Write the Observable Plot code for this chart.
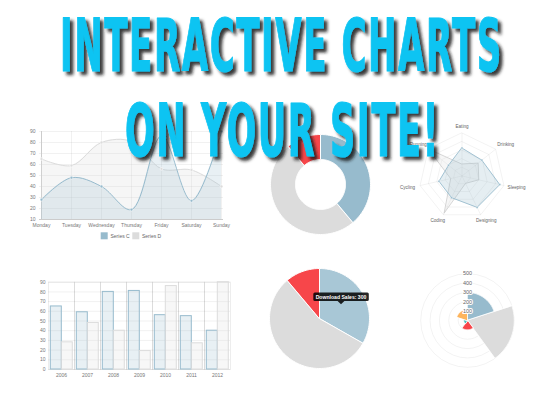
<!DOCTYPE html>
<html><head><meta charset="utf-8">
<script src="https://cdn.jsdelivr.net/npm/d3@7"></script>
<script src="https://cdn.jsdelivr.net/npm/@observablehq/plot@0.6"></script>
<style>
body{margin:0;background:#fff;}
#root{position:relative;width:550px;height:400px;overflow:hidden;background:#fff;font-family:"Liberation Sans",Arial,sans-serif;}
#root > svg{position:absolute;display:block;overflow:visible;}
</style></head><body><div id="root"></div>
<script>
// ---------- data ----------
const titleLines = ["INTERACTIVE CHARTS", "ON YOUR SITE!"];

const days = ["Monday","Tuesday","Wednesday","Thursday","Friday","Saturday","Sunday"];
const lineSeries = ["Series C","Series D"];           // blue, gray
const lineBlue = [28,48,40,19,86,27,90];
const lineGray = [65,59,80,81,56,55,40];
const lineTicks = [10,20,30,40,50,60,70,80,90];

const years = ["2006","2007","2008","2009","2010","2011","2012"];
const barSeries = ["A","B"];
const barBlue = [65,59,80,81,56,55,40];
const barGray = [28,48,40,19,86,27,90];
const barTicks = [0,10,20,30,40,50,60,70,80,90];

const donutLabels = ["Download Sales","In-Store Sales","Mail-Order Sales"];
const donutValues = [350,450,100];

const pieLabels = ["Download Sales","In-Store Sales","Mail-Order Sales"];
const pieValues = [300,500,100];

const radarLabels = ["Eating","Drinking","Sleeping","Designing","Coding","Cycling","Running"];
const radarBlue = [65,59,90,81,56,55,40];
const radarGray = [28,48,40,19,96,27,100];
const radarLevels = [20,40,60,80,100];

const polarLabels = ["Segment 1","Segment 2","Segment 3","Segment 4","Segment 5"];
const polarValues = [300,500,100,40,120];
const polarTicks = [100,200,300,400,500];

// ---------- colours ----------
const BLUE = "rgb(151,187,205)", GRAY = "rgb(220,220,220)", RED = "#F7464A", TEAL = "#46BFBD", ORANGE = "#FDB45C";
const FONT = "Liberation Sans, Arial, sans-serif";
const root = document.getElementById("root");
function place(svg, left, top){ svg.style.left = left+"px"; svg.style.top = top+"px"; root.appendChild(svg); return svg; }
const baseStyle = {fontSize:"5px", fontFamily: FONT, color:"#777", background:"none", overflow:"visible"};
const byColor = {value:"key", scale:"color"};

// polar helper: wedge polygon (angles clockwise from 12 o'clock)
function wedge(key, a0, a1, r0, r1){
  const n = Math.max(2, Math.ceil((a1-a0)/(Math.PI/90)));
  const pts = [];
  for (let k=0;k<=n;k++){ const a=a0+(a1-a0)*k/n; pts.push({key, x:r1*Math.sin(a), y:r1*Math.cos(a)}); }
  if (r0>0) for (let k=n;k>=0;k--){ const a=a0+(a1-a0)*k/n; pts.push({key, x:r0*Math.sin(a), y:r0*Math.cos(a)}); }
  else pts.push({key, x:0, y:0});
  return pts;
}

// ---------- 1. line chart ----------
const blueRows = days.map((d,i)=>({day:d, series:lineSeries[0], value:lineBlue[i]}));
const grayRows = days.map((d,i)=>({day:d, series:lineSeries[1], value:lineGray[i]}));
const lc = {x:"day", y:"value", curve:"catmull-rom"};
place(Plot.plot({
  width:240, height:130, marginLeft:39, marginRight:17, marginTop:11, marginBottom:31,
  style: baseStyle,
  x:{type:"point", domain:days, padding:0, label:null, tickSize:0, tickPadding:4, grid:true},
  y:{domain:[10,90], ticks:lineTicks, label:null, tickSize:0, tickPadding:4, grid:true},
  marks:[
    Plot.ruleX([days[0]], {x:d=>d, stroke:"#ccc"}),
    Plot.ruleY([lineTicks[0]], {stroke:"#ccc"}),
    Plot.areaY(grayRows, {...lc, fill:GRAY, fillOpacity:0.25, clip:true}),
    Plot.lineY(grayRows, {...lc, stroke:GRAY, strokeWidth:1}),
    Plot.areaY(blueRows, {...lc, fill:BLUE, fillOpacity:0.22, clip:true}),
    Plot.lineY(blueRows, {...lc, stroke:BLUE, strokeWidth:1}),
    Plot.dot(grayRows, {x:"day", y:"value", r:1.4, fill:GRAY, stroke:"white", strokeWidth:0.5}),
    Plot.dot(blueRows, {x:"day", y:"value", r:1.4, fill:BLUE, stroke:"white", strokeWidth:0.5})
  ]
}), 0, 120);

// ---------- 2. bar chart ----------
const barRows = years.flatMap((y,i)=>[{year:y, series:barSeries[0], value:barBlue[i]},{year:y, series:barSeries[1], value:barGray[i]}]);
place(Plot.plot({
  width:240, height:130, marginLeft:45.7, marginRight:7.3, marginTop:11.7, marginBottom:31,
  style: baseStyle,
  fx:{domain:years, padding:0, axis:"bottom", label:null, tickSize:0, tickPadding:4},
  x:{domain:barSeries, axis:null, paddingInner:0, paddingOuter:0.18},
  y:{domain:[0,90], ticks:barTicks, grid:true, label:null, tickSize:0, tickPadding:3},
  color:{domain:barSeries, range:[BLUE, GRAY]},
  marks:[
    Plot.frame({stroke:"#000", strokeOpacity:0.07}),
    Plot.barY(barRows, {fx:"year", x:"series", y:"value", fill:"series", fillOpacity:0.22, stroke:"series", strokeWidth:1})
  ]
}), 0, 270);

// ---------- 3. doughnut ----------
const donutRows = d3.pie().sort(null)(donutValues).flatMap(p => wedge(donutLabels[p.index], p.startAngle, p.endAngle, 0.5, 1));
place(Plot.plot({
  width:110, height:110, margin:0, style: baseStyle,
  x:{domain:[-1.1,1.1], axis:null}, y:{domain:[-1.1,1.1], axis:null},
  color:{domain:donutLabels, range:[BLUE, GRAY, RED]},
  marks:[ Plot.line(donutRows, {x:"x", y:"y", z:"key", fill:byColor, stroke:"white", strokeWidth:1, curve:"linear-closed"}) ]
}), 265, 129);

// ---------- 4. pie ----------
const pieRows = d3.pie().sort(null)(pieValues).flatMap(p => wedge(pieLabels[p.index], p.startAngle, p.endAngle, 0, 1));
place(Plot.plot({
  width:110, height:110, margin:0, style: baseStyle,
  x:{domain:[-1.1,1.1], axis:null}, y:{domain:[-1.1,1.1], axis:null},
  color:{domain:pieLabels, range:["rgb(168,199,214)", GRAY, RED]},
  marks:[ Plot.line(pieRows, {x:"x", y:"y", z:"key", fill:byColor, stroke:"white", strokeWidth:1, curve:"linear-closed"}) ]
}), 264, 263);

// ---------- 5. radar ----------
const NR = radarLabels.length;
const ang = i => i*2*Math.PI/NR;
const RMAX = radarLevels[radarLevels.length-1];
const gridRows = radarLevels.flatMap(l => radarLabels.map((_,i)=>({level:l, x:l*Math.sin(ang(i)), y:l*Math.cos(ang(i))})));
const spokeRows = radarLabels.map((lab,i)=>({lab, x:RMAX*Math.sin(ang(i)), y:RMAX*Math.cos(ang(i))}));
const radarGrayRows = radarGray.map((v,i)=>({x:v*Math.sin(ang(i)), y:v*Math.cos(ang(i))}));
const radarBlueRows = radarBlue.map((v,i)=>({x:v*Math.sin(ang(i)), y:v*Math.cos(ang(i))}));
const labelRows = radarLabels.map((lab,i)=>({lab, x:1.3*RMAX*Math.sin(ang(i)), y:1.16*RMAX*Math.cos(ang(i))}));
place(Plot.plot({
  width:123, height:123, margin:0, style: baseStyle,
  x:{domain:[-143,143], axis:null}, y:{domain:[-143,143], axis:null},
  marks:[
    Plot.line(gridRows, {x:"x", y:"y", z:"level", stroke:"#000", strokeOpacity:0.09, strokeWidth:0.6, curve:"linear-closed"}),
    Plot.link(spokeRows, {x1:()=>0, y1:()=>0, x2:"x", y2:"y", stroke:"#000", strokeOpacity:0.09, strokeWidth:0.6}),
    Plot.line(radarGrayRows, {x:"x", y:"y", fill:GRAY, fillOpacity:0.25, stroke:"rgb(205,205,205)", strokeWidth:0.8, curve:"linear-closed"}),
    Plot.line(radarBlueRows, {x:"x", y:"y", fill:BLUE, fillOpacity:0.25, stroke:BLUE, strokeWidth:0.9, curve:"linear-closed"}),
    Plot.dot(radarBlueRows, {x:"x", y:"y", r:1.1, fill:BLUE, stroke:"white", strokeWidth:0.4}),
    Plot.text(labelRows, {x:"x", y:"y", text:"lab", fill:"#666", fontSize:4.6})
  ]
}), 400, 114);

// ---------- 6. polar area ----------
const NP = polarValues.length;
const polarRows = polarValues.flatMap((v,i)=>wedge(polarLabels[i], i*2*Math.PI/NP, (i+1)*2*Math.PI/NP, 0, v));
place(Plot.plot({
  width:102, height:102, margin:0, style: baseStyle,
  x:{domain:[-545,545], axis:null}, y:{domain:[-545,545], axis:null},
  r:{type:"linear", domain:[0,545], range:[0,51]},
  color:{domain:polarLabels, range:[BLUE, GRAY, RED, TEAL, ORANGE]},
  marks:[
    Plot.dot(polarTicks, {x:()=>0, y:()=>0, r:d=>d, fill:"none", stroke:"#000", strokeOpacity:0.1, strokeWidth:0.5}),
    Plot.line(polarRows, {x:"x", y:"y", z:"key", fill:byColor, stroke:"white", strokeWidth:0.8, curve:"linear-closed"}),
    Plot.text(polarTicks, {x:()=>0, y:d=>d, text:d=>String(d), fill:"#666", stroke:"white", strokeWidth:2, fontSize:5.5})
  ]
}), 416, 269);

// ---------- overlay: legend, tooltip, title ----------
const ov = d3.select(root).append("svg").attr("width",550).attr("height",400)
  .style("left","0px").style("top","0px").style("pointer-events","none");
const defs = ov.append("defs");
defs.append("filter").attr("id","sh").attr("x","-10%").attr("y","-20%").attr("width","130%").attr("height","160%")
  .append("feDropShadow").attr("dx",3.5).attr("dy",3.5).attr("stdDeviation",1.5)
  .attr("flood-color","#151515").attr("flood-opacity",0.85);

// legend
const lg = ov.append("g").attr("font-family",FONT).attr("font-size",5).attr("fill","#666");
[[BLUE,100.7,110.5],[GRAY,132.3,142]].forEach(([c,bx,tx],i)=>{
  lg.append("rect").attr("x",bx).attr("y",232.3).attr("width",7).attr("height",7).attr("fill",c);
  lg.append("text").attr("x",tx).attr("y",235.8).attr("dy","0.35em").text(lineSeries[i]);
});

// tooltip on pie
const tt = ov.append("g");
tt.append("rect").attr("x",313.3).attr("y",292.5).attr("width",55.5).attr("height",8.6).attr("rx",1.5).attr("fill","rgba(0,0,0,0.85)");
tt.append("path").attr("d","M337.6,301.1L341,304.2L344.4,301.1Z").attr("fill","rgba(0,0,0,0.85)");
tt.append("text").attr("x",341).attr("y",296.8).attr("dy","0.35em").attr("text-anchor","middle")
  .attr("font-family",FONT).attr("font-size",5.1).attr("font-weight","bold").attr("fill","#fff")
  .text(pieLabels[0]+": "+pieValues[0]);

// title: measured and squeezed horizontally to the reference extents
const tg = ov.append("g").attr("filter","url(#sh)")
  .attr("font-family","Liberation Sans Narrow, DejaVu Sans Condensed, DejaVu Sans, sans-serif").attr("font-weight","bold")
  .attr("font-size",73).attr("fill","#0cc4f2").attr("stroke","#0cc4f2").attr("stroke-width",1.2)
  .attr("stroke-linejoin","round").attr("letter-spacing","3px");
[[titleLines[0],60,71.5,443],[titleLines[1],125,156.5,315]].forEach(([t,x0,y,w])=>{
  const txt = tg.append("text").attr("x",0).attr("y",y).text(t);
  const bb = txt.node().getBBox();
  const s = w / bb.width;
  txt.attr("transform",`translate(${x0},0) scale(${s},1) translate(${-bb.x},0)`);
});
</script></body></html>
